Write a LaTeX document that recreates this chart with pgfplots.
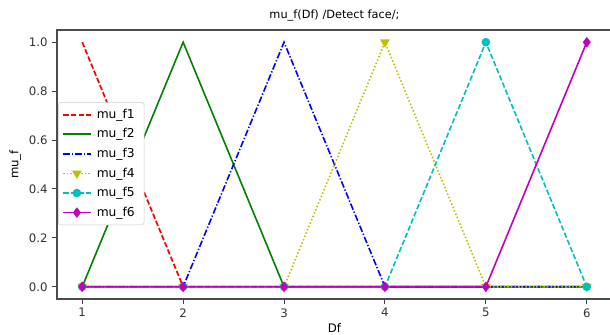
\documentclass[border=0pt]{standalone}
\usepackage{pgfplots}
\pgfplotsset{compat=1.18}
\usepackage{fontspec}
\setmainfont{DejaVu Sans}
\usetikzlibrary{plotmarks}
\definecolor{mplr}{rgb}{1,0,0}
\definecolor{mplg}{rgb}{0,0.5,0}
\definecolor{mplb}{rgb}{0,0,1}
\definecolor{mply}{rgb}{0.75,0.75,0}
\definecolor{mplc}{rgb}{0,0.75,0.75}
\definecolor{mplm}{rgb}{0.75,0,0.75}
\begin{document}
\begin{tikzpicture}
\path[use as bounding box] (0,0) rectangle (457.5pt,251.25pt);
\begin{axis}[
  name=ax,
  at={(42.75pt,27pt)}, anchor=south west,
  scale only axis, width=416.25pt, height=201.75pt,
  xmin=0.75, xmax=6.25, ymin=-0.05, ymax=1.05,
  axis lines=box,
  xtick={1,2,3,4,5,6}, ytick={0,0.2,0.4,0.6,0.8,1.0},
  yticklabel style={/pgf/number format/.cd,fixed,fixed zerofill,precision=1},
  /pgf/number format/assume math mode=true,
  tick align=outside, xtick pos=bottom, ytick pos=left, major tick length=3.5pt,
  axis line style={black!70, line width=1pt},
  every tick/.style={black!75, line width=0.7pt},
  font=\fontsize{8.8}{10.5}\selectfont,
  ticklabel style={font=\fontsize{8.8}{10.5}\selectfont, text=black!80},
  title={mu\_f(Df) /Detect face/;},
  title style={font=\fontsize{8.5}{10}\selectfont, yshift=-3pt},
  xlabel={Df}, ylabel={mu\_f},
  xlabel style={yshift=2pt},
  ylabel style={yshift=-1pt},
  legend cell align=left,
  legend style={at={(0.002,0.732)}, anchor=north west, draw=black!20, rounded corners=2pt,
    fill=white, font=\fontsize{9.2}{11}\selectfont, row sep=2.2pt, inner xsep=3pt, inner ysep=3pt,
    nodes={inner xsep=4pt}},
  legend image code/.code={\draw[mark repeat=2,mark phase=2] plot coordinates {(0cm,0cm)(0.36cm,0cm)(0.72cm,0cm)};},
]
\addplot[color=mplr, line width=1.3pt, dash pattern=on 4pt off 1.8pt] coordinates {(1,1)(2,0)(3,0)(4,0)(5,0)(6,0)};
\addlegendentry{mu\_f1}
\addplot[color=mplg, line width=1.2pt] coordinates {(1,0)(2,1)(3,0)(4,0)(5,0)(6,0)};
\addlegendentry{mu\_f2}
\addplot[color=mplb, line width=1.2pt, dash pattern=on 5pt off 1.5pt on 1pt off 1.5pt] coordinates {(1,0)(2,0)(3,1)(4,0)(5,0)(6,0)};
\addlegendentry{mu\_f3}
\addplot[color=mply, line width=1.2pt, dash pattern=on 1.1pt off 1.6pt, mark=triangle*, mark size=3pt, mark options={solid, rotate=180, fill=mply}] coordinates {(1,0)(2,0)(3,0)(4,1)(5,0)(6,0)};
\addlegendentry{mu\_f4}
\addplot[color=mplc, line width=1.2pt, dash pattern=on 4pt off 1.8pt, mark=*, mark size=2.6pt, mark options={solid, fill=mplc}] coordinates {(1,0)(2,0)(3,0)(4,0)(5,1)(6,0)};
\addlegendentry{mu\_f5}
\addplot[color=mplm, line width=1.2pt, mark=diamond*, mark size=3pt, mark options={solid, fill=mplm}] coordinates {(1,0)(2,0)(3,0)(4,0)(5,0)(6,1)};
\addlegendentry{mu\_f6}
\end{axis}
\draw[black!70, line width=1pt] (ax.south west) rectangle (ax.north east);
\end{tikzpicture}
\end{document}
